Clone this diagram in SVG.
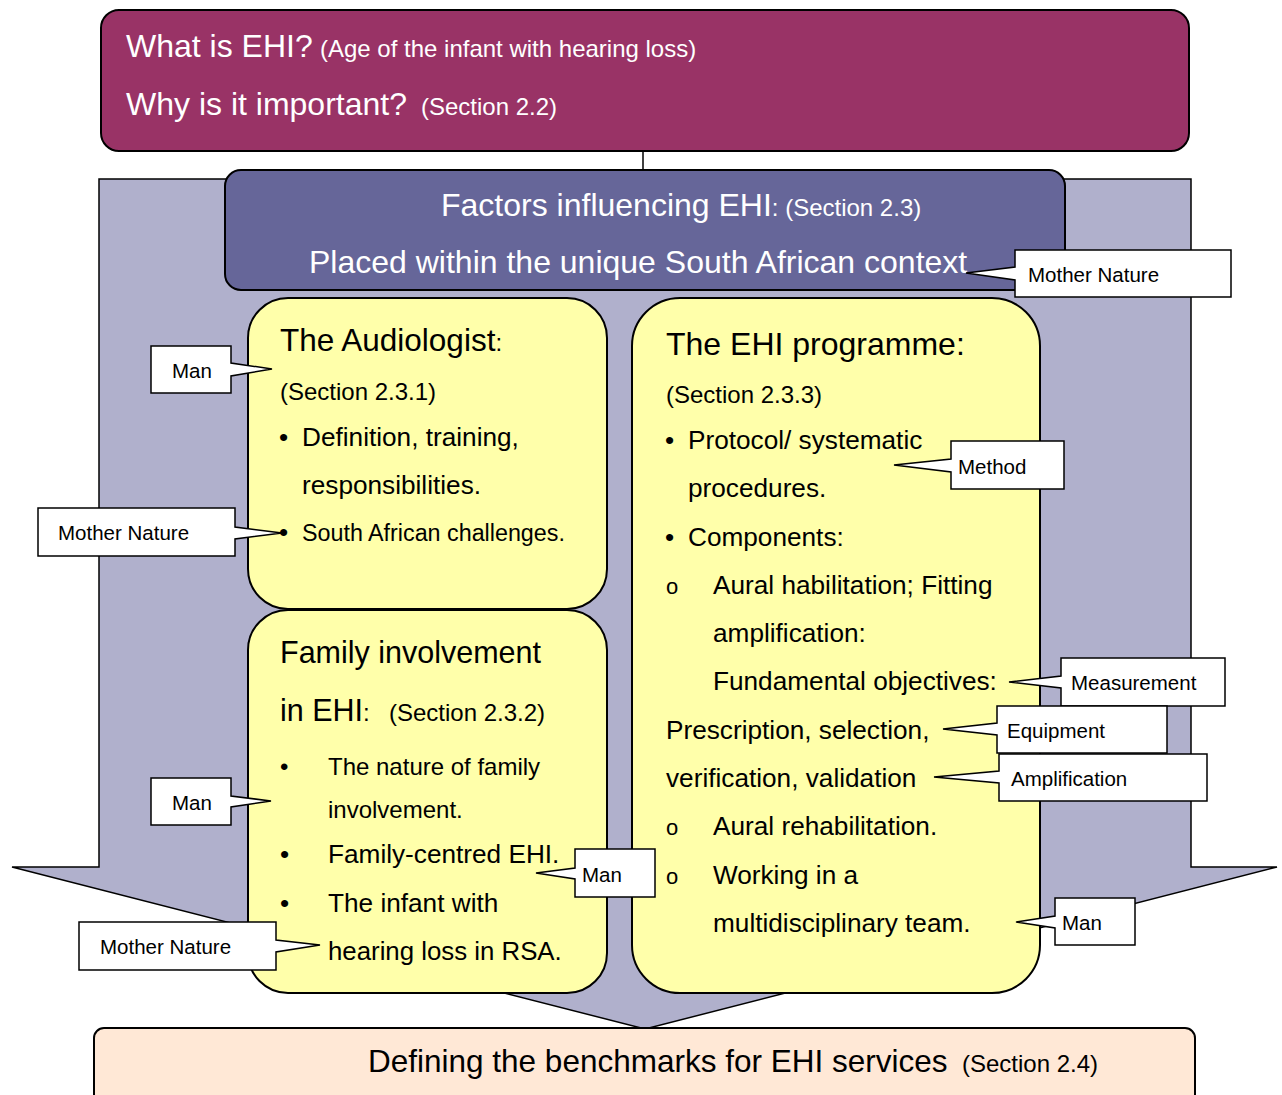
<svg xmlns="http://www.w3.org/2000/svg" width="1282" height="1095" viewBox="0 0 1282 1095">
<style>
text{font-family:"Liberation Sans",Arial,sans-serif;}
.w{fill:#ffffff;}
.k{fill:#000000;}
.t{font-size:32px;}
.s{font-size:24px;}
.b{font-size:26.2px;}
.c{font-size:20.5px;}
.box{stroke:#000;stroke-width:2;}
.call{fill:#ffffff;stroke:#000;stroke-width:1.5;stroke-linejoin:miter;}
</style>
<g id="flow-arrow">
<polygon points="99,179 1191,179 1191,867 1277,867 645,1029 12,867 99,867" fill="#b0b0cc" stroke="#000" stroke-width="1.5"/>
</g>
<g id="connectors">
<line x1="643" y1="151" x2="643" y2="178" stroke="#000" stroke-width="1.5"/>
</g>
<g id="node-what">
<rect x="101" y="10" width="1088" height="141" rx="18" fill="#993366" class="box"/>
<text class="w" y="57"><tspan x="126" font-size="32">What is EHI?</tspan><tspan x="320" font-size="24">(Age of the infant with hearing loss)</tspan></text>
<text class="w" y="115"><tspan x="126" font-size="32">Why is it important?</tspan><tspan x="421" font-size="24">(Section 2.2)</tspan></text>
</g>
<g id="node-factors">
<rect x="225" y="170" width="840" height="120" rx="16" fill="#666699" class="box"/>
<text class="w" y="216"><tspan x="441" font-size="32">Factors influencing EHI</tspan><tspan font-size="24">: (Section 2.3)</tspan></text>
<text class="w t" x="309" y="273">Placed within the unique South African context</text>
</g>
<g id="node-audiologist">
<rect x="248" y="298" width="359" height="311" rx="40" fill="#ffffaa" class="box"/>
<text class="k" y="351"><tspan x="280" font-size="31.5">The Audiologist</tspan><tspan font-size="24">:</tspan></text>
<text class="k s" x="280" y="400">(Section 2.3.1)</text>
<text class="k b" x="279" y="446">•</text>
<text class="k b" x="302" y="446">Definition, training,</text>
<text class="k b" x="302" y="494">responsibilities.</text>
<text class="k b" x="279" y="541">•</text>
<text class="k" font-size="23.3" x="302" y="541">South African challenges.</text>
</g>
<g id="node-family">
<rect x="248" y="610" width="359" height="383" rx="40" fill="#ffffaa" class="box"/>
<text class="k" font-size="30.5" x="280" y="663">Family involvement</text>
<text class="k" y="721"><tspan x="280" font-size="30.5">in EHI</tspan><tspan font-size="24">:</tspan><tspan x="389" font-size="24">(Section 2.3.2)</tspan></text>
<text class="k s" x="280" y="775">•</text>
<text class="k s" x="328" y="775">The nature of family</text>
<text class="k s" x="328" y="818">involvement.</text>
<text class="k b" x="280" y="863">•</text>
<text class="k b" x="328" y="863">Family-centred EHI.</text>
<text class="k b" x="280" y="912">•</text>
<text class="k b" x="328" y="912">The infant with</text>
<text class="k" font-size="25.8" x="328" y="960">hearing loss in RSA.</text>
</g>
<g id="node-programme">
<rect x="632" y="298" width="408" height="695" rx="48" fill="#ffffaa" class="box"/>
<text class="k t" x="666" y="355">The EHI programme:</text>
<text class="k s" x="666" y="403">(Section 2.3.3)</text>
<text class="k b" x="665" y="449">•</text>
<text class="k b" x="688" y="449">Protocol/ systematic</text>
<text class="k b" x="688" y="497">procedures.</text>
<text class="k b" x="665" y="546">•</text>
<text class="k b" x="688" y="546">Components:</text>
<text class="k" font-size="22" x="666" y="594">o</text>
<text class="k b" x="713" y="594">Aural habilitation; Fitting</text>
<text class="k b" x="713" y="642">amplification:</text>
<text class="k b" x="713" y="690">Fundamental objectives:</text>
<text class="k b" x="666" y="739">Prescription, selection,</text>
<text class="k b" x="666" y="787">verification, validation</text>
<text class="k" font-size="22" x="666" y="835">o</text>
<text class="k b" x="713" y="835">Aural rehabilitation.</text>
<text class="k" font-size="22" x="666" y="884">o</text>
<text class="k b" x="713" y="884">Working in a</text>
<text class="k b" x="713" y="932">multidisciplinary team.</text>
</g>
<g id="node-benchmarks">
<rect x="94" y="1028" width="1101" height="90" rx="10" fill="#ffe8d6" class="box"/>
<text class="k" y="1072"><tspan x="368" font-size="31.5">Defining the benchmarks for EHI services</tspan><tspan x="962" font-size="24">(Section 2.4)</tspan></text>
</g>
<g id="callout-mother-nature-1">
<path class="call" d="M1015,250 H1231 V297 H1015 V280 L966,273 L1015,267 Z"/>
<text class="k c" x="1028" y="282">Mother Nature</text>
</g>
<g id="callout-man-1">
<path class="call" d="M151,346 H231 V363 L272,369 L231,376 V393 H151 Z"/>
<text class="k c" x="172" y="378">Man</text>
</g>
<g id="callout-mother-nature-2">
<path class="call" d="M38,508 H235 V527 L282,533 L235,539 V556 H38 Z"/>
<text class="k c" x="58" y="540">Mother Nature</text>
</g>
<g id="callout-method">
<path class="call" d="M951,441 H1064 V489 H951 V472 L894,465 L951,459 Z"/>
<text class="k c" x="958" y="474">Method</text>
</g>
<g id="callout-measurement">
<path class="call" d="M1061,658 H1225 V706 H1061 V688 L1009,682 L1061,676 Z"/>
<text class="k c" x="1071" y="690">Measurement</text>
</g>
<g id="callout-equipment">
<path class="call" d="M997,706 H1167 V753 H997 V735 L943,729 L997,723 Z"/>
<text class="k c" x="1007" y="738">Equipment</text>
</g>
<g id="callout-amplification">
<path class="call" d="M999,754 H1207 V801 H999 V783 L934,777 L999,771 Z"/>
<text class="k c" x="1011" y="786">Amplification</text>
</g>
<g id="callout-man-2">
<path class="call" d="M151,778 H231 V796 L271,801 L231,807 V825 H151 Z"/>
<text class="k c" x="172" y="810">Man</text>
</g>
<g id="callout-man-3">
<path class="call" d="M575,849 H655 V897 H575 V879 L536,873 L575,868 Z"/>
<text class="k c" x="582" y="882">Man</text>
</g>
<g id="callout-mother-nature-3">
<path class="call" d="M79,922 H276 V940 L320,945 L276,952 V970 H79 Z"/>
<text class="k c" x="100" y="954">Mother Nature</text>
</g>
<g id="callout-man-4">
<path class="call" d="M1055,898 H1135 V945 H1055 V928 L1016,922 L1055,916 Z"/>
<text class="k c" x="1062" y="930">Man</text>
</g>
</svg>
